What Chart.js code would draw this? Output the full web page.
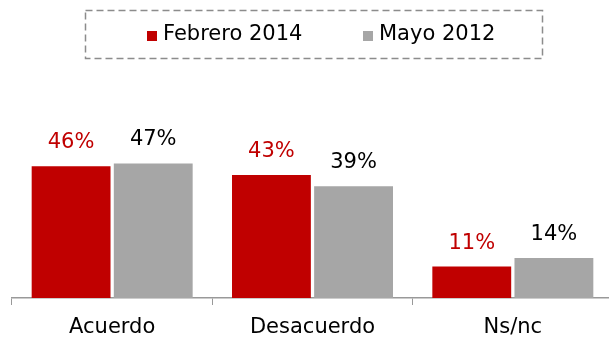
<!DOCTYPE html>
<html>
<head>
<meta charset="utf-8">
<script src="https://cdn.jsdelivr.net/npm/chart.js@4.4.0/dist/chart.umd.min.js"></script>
<style>
  html, body { margin: 0; padding: 0; background: #fff; overflow: hidden; }
  #wrap { width: 615px; height: 339px; overflow: hidden; }
</style>
</head>
<body>
<div id="wrap"><canvas id="chart" width="615" height="339"></canvas></div>
<script>
var categories = ["Acuerdo", "Desacuerdo", "Ns/nc"];
var seriesNames = ["Febrero 2014", "Mayo 2012"];
var feb2014 = [46, 43, 11];
var may2012 = [47, 39, 14];

var barColors = ["#C00000", "#A6A6A6"];
var valueColors = ["#C00000", "#000000"];
var FONT = "'DejaVu Sans', sans-serif";

// legend drawn by hand inside a dashed frame
var boxLegend = {
    id: 'boxLegend',
    afterDraw: function(chart) {
        var ctx = chart.ctx;
        ctx.save();
        ctx.setLineDash([7, 4]);
        ctx.strokeStyle = "#8c8c8c";
        ctx.lineWidth = 1.5;
        ctx.strokeRect(85.5, 10.5, 457, 48);
        ctx.setLineDash([]);
        ctx.font = "21px " + FONT;
        ctx.textBaseline = "middle";
        var xs = [147, 363];
        chart.data.datasets.forEach(function(ds, i) {
            ctx.fillStyle = ds.backgroundColor;
            ctx.fillRect(xs[i], 31, 10, 10);
            ctx.fillStyle = "#000";
            ctx.fillText(ds.label, xs[i] + 16, 35);
        });
        ctx.restore();
    }
};

// percentage above every bar
var valueLabels = {
    id: 'valueLabels',
    afterDatasetsDraw: function(chart) {
        var ctx = chart.ctx;
        ctx.save();
        ctx.font = "21px " + FONT;
        ctx.textAlign = "center";
        ctx.textBaseline = "alphabetic";
        chart.data.datasets.forEach(function(ds, i) {
            var meta = chart.getDatasetMeta(i);
            ctx.fillStyle = valueColors[i];
            meta.data.forEach(function(bar, j) {
                ctx.fillText(ds.data[j] + "%", bar.x, bar.y - 18);
            });
        });
        ctx.restore();
    }
};

window.addEventListener("load", function() {
    var ctx = document.getElementById("chart").getContext("2d");
    new Chart(ctx, {
        type: 'bar',
        data: {
            labels: categories,
            datasets: [{
                label: seriesNames[0],
                data: feb2014,
                backgroundColor: barColors[0]
            }, {
                label: seriesNames[1],
                data: may2012,
                backgroundColor: barColors[1]
            }]
        },
        options: {
            responsive: false,
            animation: false,
            devicePixelRatio: 1,
            categoryPercentage: 0.82,
            barPercentage: 0.96,
            layout: { padding: { top: 69, left: 12, right: 2, bottom: 0 } },
            scales: {
                x: {
                    // fixed band under the baseline for the category names
                    afterFit: function(scale) { scale.height = 41; },
                    grid: {
                        display: true,
                        drawOnChartArea: false,
                        drawTicks: true,
                        tickLength: 7,
                        color: "#999"
                    },
                    border: { color: "#999", width: 1.5 },
                    ticks: {
                        color: "#000",
                        padding: 10,
                        font: { family: FONT, size: 21 }
                    }
                },
                y: {
                    display: false,
                    min: 0,
                    max: 80
                }
            },
            plugins: {
                legend: { display: false },
                tooltip: { enabled: false }
            }
        },
        plugins: [boxLegend, valueLabels]
    });
});
</script>
</body>
</html>
